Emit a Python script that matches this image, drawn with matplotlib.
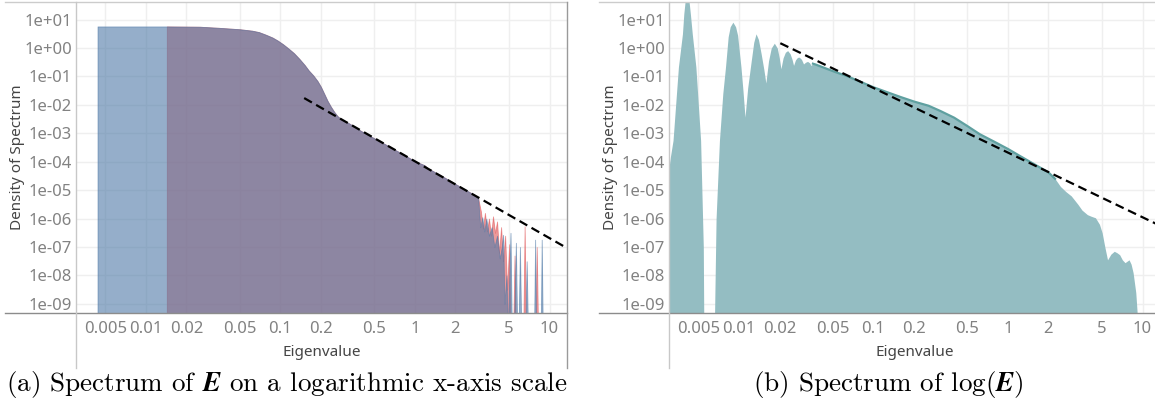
import numpy as np
import matplotlib
matplotlib.use("Agg")
import matplotlib.pyplot as plt
from matplotlib.lines import Line2D

W, H = 1155, 412

x_ticks = [0.005, 0.01, 0.02, 0.05, 0.1, 0.2, 0.5, 1, 2, 5, 10]
x_tick_labels = ["0.005", "0.01", "0.02", "0.05", "0.1", "0.2", "0.5", "1", "2", "5", "10"]
y_ticks = [1e1, 1e0, 1e-1, 1e-2, 1e-3, 1e-4, 1e-5, 1e-6, 1e-7, 1e-8, 1e-9]
y_tick_labels = ["1e+01", "1e+00", "1e-01", "1e-02", "1e-03", "1e-04",
                 "1e-05", "1e-06", "1e-07", "1e-08", "1e-09"]

# (a) values as log10(eigenvalue), log10(density)
a_blue_start = [-2.36, -2.36]
a_red_start = [-1.845, -1.845]
a_start_logy = [-12, 0.76]
a_body_logx = [-1.845, -1.6, -1.453, -1.3, -1.21, -1.16, -1.11, -1.06, -1.02, -0.98,
               -0.94, -0.9, -0.86, -0.82, -0.79, -0.757, -0.725, -0.7, -0.676, -0.65,
               -0.626, -0.6, -0.577, -0.55, -0.52, -0.49, -0.466, -0.4, -0.32,
               -0.2, 0.0, 0.07, 0.1, 0.2, 0.3, 0.38, 0.44]
a_body_logy = [0.76, 0.75, 0.71, 0.66, 0.61, 0.56, 0.47, 0.37, 0.26, 0.13,
               -0.02, -0.18, -0.38, -0.6, -0.79, -0.96, -1.16, -1.36, -1.6, -1.86,
               -2.06, -2.25, -2.39, -2.5, -2.58, -2.65, -2.72, -2.92, -3.13,
               -3.44, -3.98, -4.12, -4.24, -4.50, -4.78, -5.0, -5.16]
a_blue_tail_logx = [0.47, 0.485, 0.50, 0.515, 0.53, 0.55, 0.57, 0.59, 0.61, 0.63, 0.645,
                    0.655, 0.665, 0.68, 0.69, 0.71, 0.72, 0.735, 0.75, 0.76, 0.77, 0.78,
                    0.79, 0.82, 0.83, 0.84, 0.885, 0.893, 0.90, 0.935, 0.942, 0.95]
a_blue_tail_logy = [-5.3, -6.3, -5.95, -6.45, -6.0, -6.6, -6.3, -7.0, -6.6, -7.4, -7.0,
                    -6.57, -9.0, -8.0, -10, -6.5, -10, -10, -6.85, -10, -10, -7.0,
                    -10, -10, -7.5, -10, -10, -6.74, -10, -10, -6.74, -10]
a_red_tail_logx = [0.47, 0.49, 0.505, 0.52, 0.535, 0.55, 0.565, 0.58, 0.595, 0.61, 0.625,
                   0.64, 0.655, 0.67, 0.685, 0.70, 0.71, 0.73, 0.74, 0.75, 0.805, 0.815,
                   0.825, 0.895, 0.905, 0.915]
a_red_tail_logy = [-5.3, -5.75, -6.35, -5.8, -6.45, -6.0, -6.6, -5.92, -6.5, -6.1, -7.2,
                   -6.3, -7.5, -6.6, -8.5, -6.9, -10, -10, -7.3, -10, -10, -6.27,
                   -10, -10, -7.0, -10]
a_fit_x = [0.15, 14.0]
a_fit_y = [1.74e-2, 8.3e-8]

# (b) spectrum of log(E)
b_logx = [-2.53, -2.51, -2.49, -2.45, -2.42, -2.41, -2.40, -2.385, -2.37, -2.36, -2.347,
          -2.32, -2.285, -2.265, -2.258, -2.19, -2.17, -2.145, -2.12, -2.10, -2.08, -2.065,
          -2.045, -2.025, -2.01, -1.985, -1.97, -1.955, -1.935, -1.91, -1.89, -1.873,
          -1.855, -1.835, -1.815, -1.80, -1.78, -1.76, -1.737, -1.715, -1.70, -1.688,
          -1.672, -1.655, -1.638, -1.62, -1.605, -1.594, -1.58, -1.565, -1.552, -1.535,
          -1.52, -1.505, -1.49, -1.475, -1.465, -1.45, -1.43, -1.28, -1.2, -1.1, -1.0,
          -0.9, -0.8, -0.7, -0.59, -0.5, -0.4, -0.3, -0.21, -0.1, 0.0, 0.09, 0.2, 0.30,
          0.35, 0.39, 0.43, 0.47, 0.52, 0.55, 0.59, 0.62, 0.65, 0.68, 0.70, 0.72, 0.74,
          0.765, 0.79, 0.81, 0.83, 0.85, 0.87, 0.90, 0.915, 0.93, 0.95, 0.97, 0.98]
b_logy = [-4.6, -3.84, -3.25, -0.67, 0.5, 1.2, 1.65, 1.85, 1.6, 1.15, 0.5,
          -0.67, -3.25, -7.0, -12, -12, -6.0, -3.25, -1.6, -0.67, 0.4, 0.75,
          0.91, 0.75, 0.45, -0.67, -1.5, -2.43, -1.4, -0.5, 0.2, 0.5,
          0.3, -0.2, -0.75, -1.23, -0.45, 0.0, 0.17, 0.0, -0.35, -0.73,
          -0.35, -0.15, -0.09, -0.2, -0.4, -0.61, -0.42, -0.33, -0.32, -0.4,
          -0.56, -0.5, -0.47, -0.52, -0.61, -0.55, -0.58, -0.85, -0.98, -1.18, -1.38,
          -1.55, -1.72, -1.88, -2.03, -2.22, -2.45, -2.75, -3.03, -3.3, -3.55, -3.8, -4.1, -4.37,
          -4.6, -4.87, -5.05, -5.2, -5.5, -5.7, -5.86, -5.92, -5.97, -6.2, -6.5, -7.0, -7.45,
          -7.25, -7.15, -7.2, -7.27, -7.45, -7.55, -7.45, -7.6, -7.9, -8.6, -10, -12]
b_fit_x = [0.0203, 14.0]
b_fit_y = [1.48, 5.2e-7]

plt.rcParams["font.family"] = ["Noto Sans", "DejaVu Sans"]
plt.rcParams["mathtext.fontset"] = "cm"

fig = plt.figure(figsize=(W / 100, H / 100), dpi=100)


def px_axes(x0, y0, x1, y1):
    return fig.add_axes([x0 / W, 1 - y1 / H, (x1 - x0) / W, (y1 - y0) / H])


def px_line(xs, ys, color):
    fig.add_artist(Line2D([x / W for x in xs], [1 - y / H for y in ys],
                          transform=fig.transFigure, color=color, lw=1))


def style(ax):
    ax.set_xscale("log")
    ax.set_yscale("log")
    ax.set_xlim(10 ** -2.52, 10 ** 1.13)
    ax.set_ylim(10 ** -9.32, 10 ** 1.62)
    ax.set_xticks(x_ticks, x_tick_labels)
    ax.set_yticks(y_ticks, y_tick_labels)
    ax.xaxis.set_minor_locator(matplotlib.ticker.NullLocator())
    ax.yaxis.set_minor_locator(matplotlib.ticker.NullLocator())
    ax.tick_params(length=0, labelsize=12, labelcolor="#828282")
    ax.tick_params(axis="x", pad=6)
    ax.tick_params(axis="y", pad=3)
    ax.grid(True, color="#efefef", lw=1)
    ax.set_axisbelow(True)
    for s in ax.spines.values():
        s.set_visible(False)
    ax.set_xlabel("Eigenvalue", fontsize=11, color="#444444")
    ax.set_ylabel("Density of Spectrum", fontsize=11, color="#444444")
    ax.xaxis.label.set_va("center")
    ax.yaxis.label.set_va("center")
    ax.xaxis.set_label_coords(0.5, -40 / 311)


to_lin = lambda v: np.power(10.0, np.array(v, dtype=float))

# panel (a)
ax1 = px_axes(76, 2, 567, 313)
style(ax1)
ax1.yaxis.set_label_coords(-58 / 491, 0.5)
red_x = to_lin(a_red_start + a_body_logx + a_red_tail_logx)
red_y = to_lin(a_start_logy + a_body_logy + a_red_tail_logy)
blue_x = to_lin(a_blue_start + a_body_logx + a_blue_tail_logx)
blue_y = to_lin(a_start_logy + a_body_logy + a_blue_tail_logy)
ax1.fill_between(red_x, red_y, 1e-12, color="#e15759", alpha=0.6, lw=0.6)
ax1.fill_between(blue_x, blue_y, 1e-12, color="#4e79a7", alpha=0.6, lw=0.6)
ax1.plot(a_fit_x, a_fit_y, color="black", lw=1.6, dashes=(4, 2.2))

# panel (b)
ax2 = px_axes(669, 2, 1160, 313)
style(ax2)
ax2.yaxis.set_label_coords(-58 / 491, 0.5)
bx = to_lin(b_logx)
by = to_lin(b_logy)
ax2.fill_between(bx, by, 1e-12, color="#94bdc2", lw=0)
edge = (np.array(b_logx) >= -1.45) & (np.array(b_logx) <= 0.36)
ax2.plot(bx[edge], by[edge], color="#5fa0a0", lw=1.6)
ax2.plot(b_fit_x, b_fit_y, color="black", lw=1.6, dashes=(4, 2.2))

# tableau-like frame lines
px_line([5, 567], [2, 2], "#cccccc")
px_line([5, 567], [313, 313], "#8c8c8c")
px_line([76, 76], [2, 368], "#c8c8c8")
px_line([567, 567], [2, 368], "#9a9a9a")
px_line([599, 1155], [2, 2], "#cccccc")
px_line([599, 1155], [313, 313], "#8c8c8c")
px_line([669, 669], [2, 368], "#c8c8c8")

fig.text(287 / W, 1 - 385 / H, r"(a) Spectrum of $\boldsymbol{E}$ on a logarithmic x-axis scale",
         fontfamily="cmr10", fontsize=19.5, ha="center", va="center")
fig.text(888 / W, 1 - 385 / H, r"(b) Spectrum of $\log(\boldsymbol{E})$",
         fontfamily="cmr10", fontsize=19.5, ha="center", va="center")

fig.savefig("out.png", dpi=100)
